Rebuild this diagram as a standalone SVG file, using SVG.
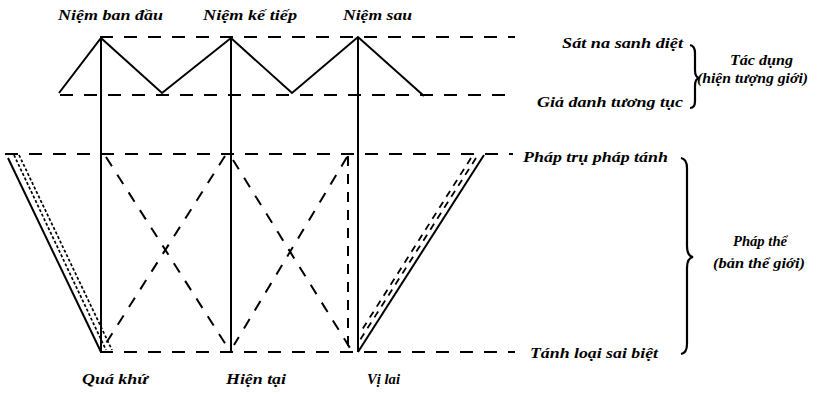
<svg xmlns="http://www.w3.org/2000/svg" width="832" height="394" viewBox="0 0 832 394">
<style>
.s{stroke:#000;stroke-width:2;fill:none}
.d{stroke:#000;stroke-width:2;fill:none;stroke-dasharray:13 11}
.dx{stroke:#000;stroke-width:2;fill:none;stroke-dasharray:11 10}
.dv{stroke:#000;stroke-width:2;fill:none;stroke-dasharray:10 8}
.dt{stroke:#000;stroke-width:1.7;fill:none;stroke-dasharray:3 2}
.dd{stroke:#000;stroke-width:1.8;fill:none;stroke-dasharray:7 6}
.br{stroke:#000;stroke-width:2.2;fill:none}
text{font-family:"Liberation Serif","DejaVu Serif",serif;font-style:italic;font-weight:bold;font-size:14px;fill:#000}
</style>
<rect width="832" height="394" fill="#fff"/>
<g id="connectors">
  <line class="d" x1="100" y1="37" x2="515" y2="37"/>
  <line class="d" x1="60" y1="95" x2="515" y2="95"/>
  <polyline class="s" points="59,93 101,38 162,93 231,38 292,93 358,37 424,96"/>
  <line class="s" x1="101" y1="37" x2="101" y2="352"/>
  <line class="s" x1="231" y1="37" x2="231" y2="352"/>
  <line class="s" x1="358" y1="37" x2="358" y2="352"/>
  <line class="d" x1="5" y1="154" x2="513" y2="154"/>
  <line class="d" x1="100" y1="352" x2="515" y2="352"/>
  <line class="s" x1="8" y1="158" x2="101" y2="352"/>
  <line class="dt" x1="14" y1="155" x2="106" y2="350"/>
  <line class="dt" x1="19" y1="155" x2="112" y2="350"/>
  <line class="dx" x1="106" y1="157" x2="228" y2="348"/>
  <line class="dx" x1="225" y1="156" x2="103" y2="348"/>
  <line class="dx" x1="233" y1="160" x2="350" y2="348"/>
  <line class="dx" x1="347" y1="157" x2="234" y2="345"/>
  <line class="dv" x1="348" y1="156" x2="348" y2="352"/>
  <line class="s" x1="358" y1="352" x2="484" y2="155"/>
  <line class="dd" x1="476" y1="158" x2="360" y2="340"/>
  <line class="dd" x1="471" y1="158" x2="360" y2="333"/>
  <path class="br" d="M690,45 Q695,46 695,53 L695,70 Q695,77 699,78 Q695,79 695,86 L695,101 Q695,108 690,108"/>
  <path class="br" d="M681,158 Q687,159 687,168 L687,246 Q687,256 693,257 Q687,258 687,268 L687,344 Q687,353 681,354"/>
</g>
<g id="labels-top">
  <text x="58" y="20" textLength="105" lengthAdjust="spacingAndGlyphs">Niệm ban đầu</text>
  <text x="203" y="20" textLength="94" lengthAdjust="spacingAndGlyphs">Niệm kế tiếp</text>
  <text x="343" y="20" textLength="69" lengthAdjust="spacingAndGlyphs">Niệm sau</text>
</g>
<g id="labels-right">
  <text x="562" y="48" textLength="121" lengthAdjust="spacingAndGlyphs">Sát na sanh diệt</text>
  <text x="537" y="107" textLength="146" lengthAdjust="spacingAndGlyphs">Giả danh tương tục</text>
  <text x="730" y="65" textLength="63" lengthAdjust="spacingAndGlyphs">Tác dụng</text>
  <text x="697" y="83" textLength="111" lengthAdjust="spacingAndGlyphs">(hiện tượng giới)</text>
  <text x="523" y="162" textLength="145" lengthAdjust="spacingAndGlyphs">Pháp trụ pháp tánh</text>
  <text x="530" y="358" textLength="128" lengthAdjust="spacingAndGlyphs">Tánh loại sai biệt</text>
  <text x="733" y="246" textLength="54" lengthAdjust="spacingAndGlyphs">Pháp thể</text>
  <text x="713" y="268" textLength="92" lengthAdjust="spacingAndGlyphs">(bản thể giới)</text>
</g>
<g id="labels-bottom">
  <text x="82" y="384" textLength="66" lengthAdjust="spacingAndGlyphs">Quá khứ</text>
  <text x="226" y="384" textLength="60" lengthAdjust="spacingAndGlyphs">Hiện tại</text>
  <text x="367" y="384" textLength="33" lengthAdjust="spacingAndGlyphs">Vị lai</text>
</g>
</svg>
